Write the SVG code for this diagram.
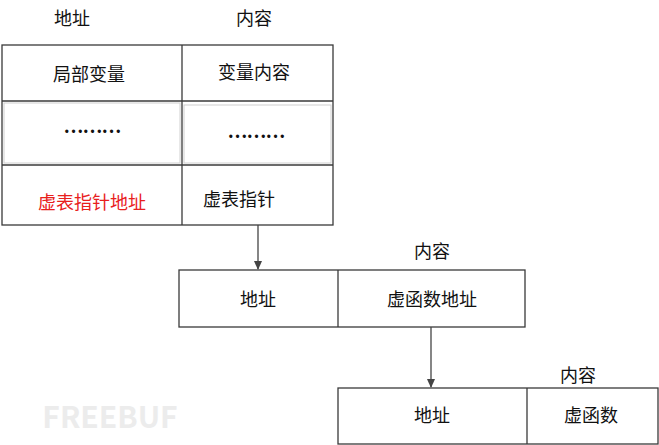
<svg xmlns="http://www.w3.org/2000/svg" width="659" height="445" viewBox="0 0 659 445">
<style>
.b{fill:#fff;stroke:#3a3a3a;stroke-width:1.3}
.i{fill:none;stroke:#d0d0d0;stroke-width:1}
text{font-family:"Noto Sans CJK SC","Liberation Sans",sans-serif;font-size:18px;fill:#111;text-anchor:middle;dominant-baseline:central}
.d{font-family:"Liberation Serif",serif;font-size:20px;font-weight:bold;letter-spacing:-1px}
.c{stroke:#444;stroke-width:1.3;fill:none}
</style>
<defs><marker id="a" markerWidth="10" markerHeight="10" refX="8" refY="5" orient="auto" markerUnits="userSpaceOnUse"><path d="M0,1 L9,5 L0,9 Z" fill="#444"/></marker></defs>
<g id="wm"><text x="110" y="415" style="font-size:30px;fill:#ececec;font-weight:bold">FREEBUF</text></g>
<g id="labels">
<text x="72" y="17">地址</text><text x="254" y="17">内容</text>
<text x="432" y="250">内容</text><text x="578" y="374">内容</text>
</g>
<g id="table1">
<rect class="b" x="2" y="45" width="331" height="180"/>
<line class="b" x1="182" y1="45" x2="182" y2="225"/>
<line class="b" x1="2" y1="101" x2="333" y2="101"/>
<line class="b" x1="2" y1="165" x2="333" y2="165"/>
<rect class="i" x="4" y="103" width="176" height="60"/>
<rect class="i" x="184" y="105" width="147" height="58"/>
<text x="89" y="73">局部变量</text><text x="254" y="71">变量内容</text>
<text class="d" x="92" y="126">………</text>
<text class="d" x="256" y="131">………</text>
<text x="92" y="201" style="fill:#e8201c">虚表指针地址</text>
<text x="239" y="198">虚表指针</text>
</g>
<g id="table2">
<rect class="b" x="179" y="270" width="346" height="57"/>
<line class="b" x1="338" y1="270" x2="338" y2="327"/>
<text x="258" y="298">地址</text><text x="432" y="298">虚函数地址</text>
</g>
<g id="table3">
<rect class="b" x="338" y="388" width="320" height="56"/>
<line class="b" x1="527" y1="388" x2="527" y2="444"/>
<text x="432" y="414">地址</text><text x="591" y="414">虚函数</text>
</g>
<g id="connectors">
<line class="c" x1="258" y1="225" x2="258" y2="269" marker-end="url(#a)"/>
<line class="c" x1="431" y1="327" x2="431" y2="387" marker-end="url(#a)"/>
</g>
</svg>
